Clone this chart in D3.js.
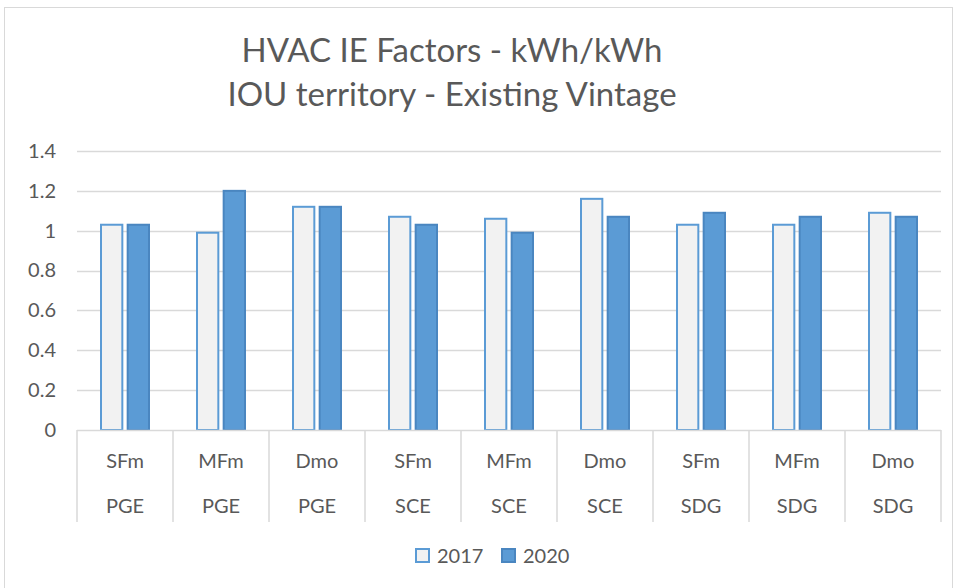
<!DOCTYPE html>
<html>
<head>
<meta charset="utf-8">
<script src="https://cdn.jsdelivr.net/npm/d3@7"></script>
<style>
  body { margin: 0; background: #fff; }
  text { font-family: Lato, "Open Sans", sans-serif; fill: #595959; }
</style>
</head>
<body>
<div id="chart"></div>
<script>
// data
const utilities = ["PGE", "PGE", "PGE", "SCE", "SCE", "SCE", "SDG", "SDG", "SDG"];
const buildings = ["SFm", "MFm", "Dmo", "SFm", "MFm", "Dmo", "SFm", "MFm", "Dmo"];
const seriesNames = ["2017", "2020"];
const values2017 = [1.03, 0.99, 1.12, 1.07, 1.06, 1.16, 1.03, 1.03, 1.09];
const values2020 = [1.03, 1.20, 1.12, 1.03, 0.99, 1.07, 1.09, 1.07, 1.07];
const yTicks = [0, 0.2, 0.4, 0.6, 0.8, 1, 1.2, 1.4];

const colors = {
  "2017": { fill: "#f2f2f2", stroke: "#5b9bd5" },
  "2020": { fill: "#5b9bd5", stroke: "#4a86c0" }
};

const W = 957, H = 588;
const margin = { top: 151, right: 16, bottom: 158, left: 77 };
const width = W - margin.left - margin.right;
const height = H - margin.top - margin.bottom;

const svg = d3.select("#chart").append("svg")
  .attr("width", W)
  .attr("height", H);

// chart border
svg.append("rect")
  .attr("x", 4.5).attr("y", 7.5)
  .attr("width", 948).attr("height", 600)
  .attr("fill", "none").attr("stroke", "#d9d9d9");

// title
const title = svg.append("text")
  .attr("text-anchor", "middle")
  .attr("font-size", 33);
title.append("tspan").attr("x", 452).attr("y", 62).text("HVAC IE Factors - kWh/kWh");
title.append("tspan").attr("x", 452).attr("y", 106).text("IOU territory - Existing Vintage");

const g = svg.append("g").attr("transform", `translate(${margin.left},${margin.top})`);

const rows = buildings.map((b, i) => ({ key: i, b, u: utilities[i], "2017": values2017[i], "2020": values2020[i] }));

const x0 = d3.scaleBand().domain(rows.map(d => d.key)).range([0, width]);
const x1 = d3.scaleBand().domain(seriesNames).range([24, x0.bandwidth() - 24]).paddingInner(0.2);
const y = d3.scaleLinear().domain([0, 1.4]).range([height, 0]);

// gridlines
g.append("g")
  .selectAll("line")
  .data(yTicks.filter(t => t > 0))
  .join("line")
  .attr("x1", 0).attr("x2", width)
  .attr("y1", d => Math.round(y(d)) + 0.5).attr("y2", d => Math.round(y(d)) + 0.5)
  .attr("stroke", "#d9d9d9").attr("stroke-width", 1.5);

// y axis labels
const yAxis = g.append("g")
  .call(d3.axisLeft(y).tickValues(yTicks).tickSize(0).tickPadding(21).tickFormat(d3.format("")));
yAxis.select(".domain").remove();
yAxis.selectAll("text").attr("font-size", 20).attr("fill", "#595959")
  .style("font-family", "Lato, sans-serif");

// bars
const groups = g.selectAll(".grp")
  .data(rows)
  .join("g")
  .attr("class", "grp")
  .attr("transform", d => `translate(${x0(d.key)},0)`);

groups.selectAll("rect")
  .data(d => seriesNames.map(s => ({ s, v: d[s] })))
  .join("rect")
  .attr("x", d => x1(d.s))
  .attr("y", d => y(d.v))
  .attr("width", x1.bandwidth())
  .attr("height", d => height - y(d.v))
  .attr("fill", d => colors[d.s].fill)
  .attr("stroke", d => colors[d.s].stroke)
  .attr("stroke-width", 2);

// category axis (two levels)
const axisG = g.append("g").attr("transform", `translate(0,${height})`);
axisG.append("line")
  .attr("x1", 0).attr("x2", width).attr("y1", 0.5).attr("y2", 0.5)
  .attr("stroke", "#d9d9d9").attr("stroke-width", 1.5);
axisG.selectAll(".div")
  .data(d3.range(rows.length + 1))
  .join("line")
  .attr("class", "div")
  .attr("x1", i => i < rows.length ? x0(i) : width)
  .attr("x2", i => i < rows.length ? x0(i) : width)
  .attr("y1", 0).attr("y2", 92)
  .attr("stroke", "#d9d9d9").attr("stroke-width", 1.5);
axisG.selectAll(".lb1")
  .data(rows)
  .join("text")
  .attr("class", "lb1")
  .attr("x", d => x0(d.key) + x0.bandwidth() / 2)
  .attr("y", 38)
  .attr("text-anchor", "middle")
  .attr("font-size", 20)
  .text(d => d.b);
axisG.selectAll(".lb2")
  .data(rows)
  .join("text")
  .attr("class", "lb2")
  .attr("x", d => x0(d.key) + x0.bandwidth() / 2)
  .attr("y", 83)
  .attr("text-anchor", "middle")
  .attr("font-size", 20)
  .text(d => d.u);

// legend
const legend = svg.append("g").attr("transform", "translate(415,548)");
seriesNames.forEach((s, i) => {
  const item = legend.append("g").attr("transform", `translate(${i * 86},0)`);
  item.append("rect")
    .attr("x", 1).attr("y", 1).attr("width", 13).attr("height", 13)
    .attr("fill", colors[s].fill).attr("stroke", colors[s].stroke).attr("stroke-width", 2);
  item.append("text")
    .attr("x", 22).attr("y", 15)
    .attr("font-size", 20)
    .text(s);
});
</script>
</body>
</html>
